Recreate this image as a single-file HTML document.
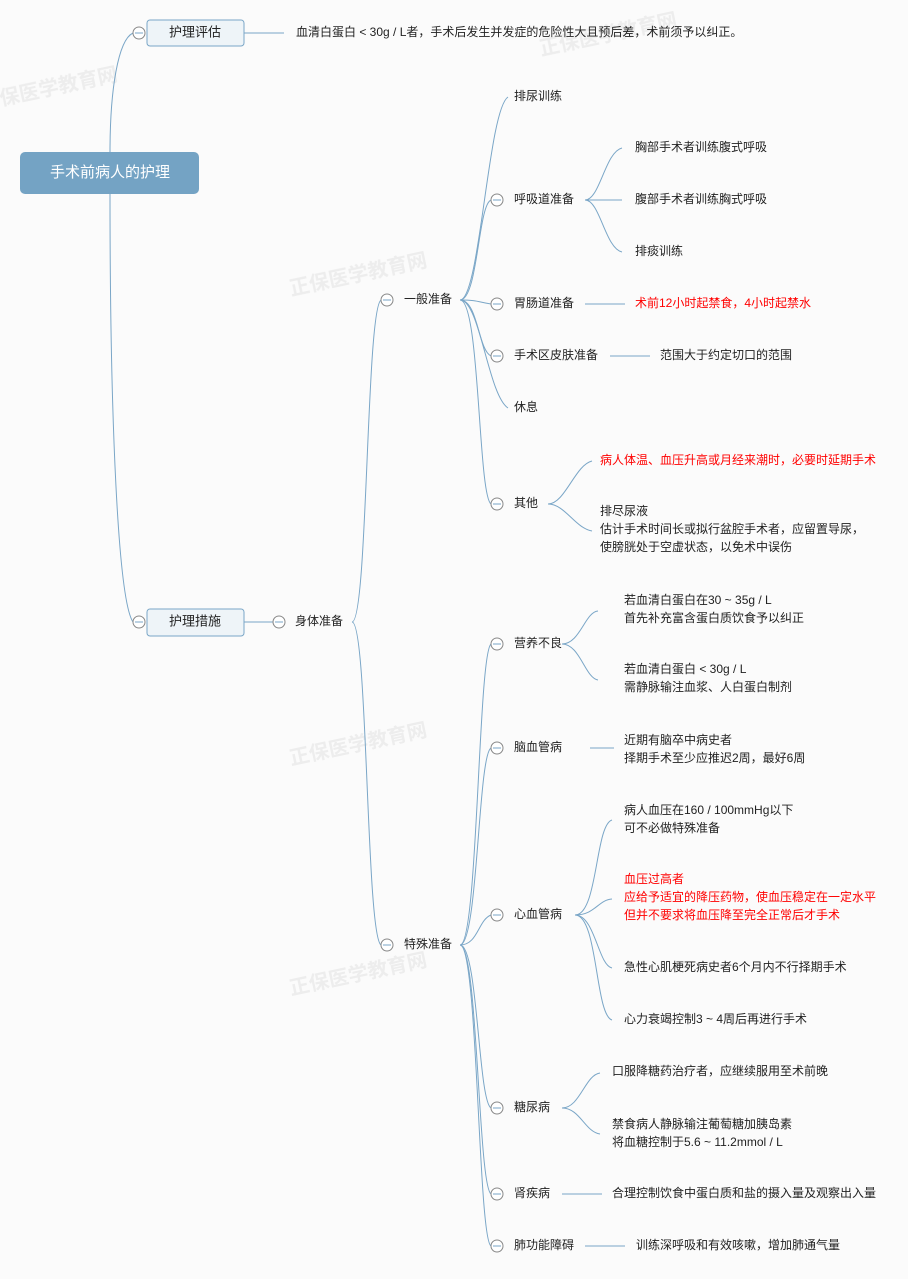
<!DOCTYPE html>
<html><head><meta charset="utf-8"><style>
html,body{margin:0;padding:0;background:#fbfbfb;}
svg{display:block;font-family:"Liberation Sans","Noto Sans CJK SC",sans-serif;}
text{font-size:12px;fill:#222;dominant-baseline:middle;}
.r{fill:#f00;}
path,line{stroke:#7aa6c7;fill:none;stroke-width:1;}
circle{fill:#fff;stroke:#888;stroke-width:1;}
</style></head><body>
<svg width="908" height="1279" viewBox="0 0 908 1279">
<g opacity="0.12" font-weight="bold" fill="#888">
<text x="540" y="50" style="font-size:20px;fill:#888" transform="rotate(-12 540 50)">正保医学教育网</text>
<text x="0" y="100" style="font-size:20px;fill:#888" transform="rotate(-12 0 100)">保医学教育网</text>
<text x="290" y="290" style="font-size:20px;fill:#888" transform="rotate(-12 290 290)">正保医学教育网</text>
<text x="290" y="760" style="font-size:20px;fill:#888" transform="rotate(-12 290 760)">正保医学教育网</text>
<text x="290" y="990" style="font-size:20px;fill:#888" transform="rotate(-12 290 990)">正保医学教育网</text>
</g>
<rect x="20" y="152" width="179" height="42" rx="5" fill="#74a3c4"/>
<text x="110" y="173" text-anchor="middle" style="font-size:15px;fill:#fff">手术前病人的护理</text>
<path d="M110 152 C110 90 118 40 133 33"/>
<path d="M110 194 C110 420 118 600 133 622"/>
<rect x="147" y="20" width="97" height="26" rx="3" fill="#eef4f8" stroke="#7aa6c7"/>
<text x="195" y="33" text-anchor="middle" style="font-size:13px">护理评估</text>
<circle cx="139" cy="33" r="6"/><line x1="135" y1="33" x2="143" y2="33" stroke="#888"/>
<line x1="244" y1="33" x2="284" y2="33"/>
<text x="296" y="33">血清白蛋白 &lt; 30g / L者，手术后发生并发症的危险性大且预后差，术前须予以纠正。</text>
<rect x="147" y="609" width="97" height="27" rx="3" fill="#eef4f8" stroke="#7aa6c7"/>
<text x="195" y="622" text-anchor="middle" style="font-size:13px">护理措施</text>
<circle cx="139" cy="622" r="6"/><line x1="135" y1="622" x2="143" y2="622" stroke="#888"/>
<line x1="244" y1="622" x2="273" y2="622"/>
<circle cx="279" cy="622" r="6"/><line x1="275" y1="622" x2="283" y2="622" stroke="#888"/>
<text x="295" y="622">身体准备</text>
<path d="M352 622 C368 622 366 310 381 300"/>
<path d="M352 622 C368 622 366 935 381 945"/>
<circle cx="387" cy="300" r="6"/><line x1="383" y1="300" x2="391" y2="300" stroke="#888"/>
<text x="404" y="300">一般准备</text>
<circle cx="387" cy="945" r="6"/><line x1="383" y1="945" x2="391" y2="945" stroke="#888"/>
<text x="404" y="945">特殊准备</text>
<path d="M460 300 C480 300 488 110 508 97"/>
<path d="M460 300 C478 300 478 205 491 200"/>
<path d="M460 300 C478 300 478 302 491 304"/>
<path d="M460 300 C478 300 478 350 491 356"/>
<path d="M460 300 C480 300 488 395 508 408"/>
<path d="M460 300 C480 300 478 495 491 504"/>
<text x="514" y="97">排尿训练</text>
<circle cx="497" cy="200" r="6"/><line x1="493" y1="200" x2="501" y2="200" stroke="#888"/><text x="514" y="200">呼吸道准备</text>
<circle cx="497" cy="304" r="6"/><line x1="493" y1="304" x2="501" y2="304" stroke="#888"/><text x="514" y="304">胃肠道准备</text>
<circle cx="497" cy="356" r="6"/><line x1="493" y1="356" x2="501" y2="356" stroke="#888"/><text x="514" y="356">手术区皮肤准备</text>
<text x="514" y="408">休息</text>
<circle cx="497" cy="504" r="6"/><line x1="493" y1="504" x2="501" y2="504" stroke="#888"/><text x="514" y="504">其他</text>
<path d="M585 200 C600 200 605 152 622 148"/>
<line x1="585" y1="200" x2="622" y2="200"/>
<path d="M585 200 C600 200 605 248 622 252"/>
<text x="635" y="148">胸部手术者训练腹式呼吸</text>
<text x="635" y="200">腹部手术者训练胸式呼吸</text>
<text x="635" y="252">排痰训练</text>
<line x1="585" y1="304" x2="625" y2="304"/>
<text x="635" y="304" class="r">术前12小时起禁食，4小时起禁水</text>
<line x1="610" y1="356" x2="650" y2="356"/>
<text x="660" y="356">范围大于约定切口的范围</text>
<path d="M548 504 C565 504 575 465 592 461"/>
<path d="M548 504 C565 504 575 528 592 531"/>
<text x="600" y="461" class="r">病人体温、血压升高或月经来潮时，必要时延期手术</text>
<text x="600" y="512">排尽尿液</text>
<text x="600" y="530">估计手术时间长或拟行盆腔手术者，应留置导尿，</text>
<text x="600" y="548">使膀胱处于空虚状态，以免术中误伤</text>
<path d="M460 945 C478 945 478 655 491 644"/>
<path d="M460 945 C478 945 478 755 491 748"/>
<path d="M460 945 C478 945 478 920 491 915"/>
<path d="M460 945 C478 945 478 1100 491 1108"/>
<path d="M460 945 C478 945 478 1185 491 1194"/>
<path d="M460 945 C478 945 478 1238 491 1246"/>
<circle cx="497" cy="644" r="6"/><line x1="493" y1="644" x2="501" y2="644" stroke="#888"/><text x="514" y="644">营养不良</text>
<circle cx="497" cy="748" r="6"/><line x1="493" y1="748" x2="501" y2="748" stroke="#888"/><text x="514" y="748">脑血管病</text>
<circle cx="497" cy="915" r="6"/><line x1="493" y1="915" x2="501" y2="915" stroke="#888"/><text x="514" y="915">心血管病</text>
<circle cx="497" cy="1108" r="6"/><line x1="493" y1="1108" x2="501" y2="1108" stroke="#888"/><text x="514" y="1108">糖尿病</text>
<circle cx="497" cy="1194" r="6"/><line x1="493" y1="1194" x2="501" y2="1194" stroke="#888"/><text x="514" y="1194">肾疾病</text>
<circle cx="497" cy="1246" r="6"/><line x1="493" y1="1246" x2="501" y2="1246" stroke="#888"/><text x="514" y="1246">肺功能障碍</text>
<path d="M562 644 C580 644 585 612 598 611"/>
<path d="M562 644 C580 644 585 678 598 680"/>
<text x="624" y="601">若血清白蛋白在30 ~ 35g / L</text>
<text x="624" y="619">首先补充富含蛋白质饮食予以纠正</text>
<text x="624" y="670">若血清白蛋白 &lt; 30g / L</text>
<text x="624" y="688">需静脉输注血浆、人白蛋白制剂</text>
<line x1="590" y1="748" x2="614" y2="748"/>
<text x="624" y="741">近期有脑卒中病史者</text>
<text x="624" y="759">择期手术至少应推迟2周，最好6周</text>
<path d="M575 915 C598 915 595 825 612 820"/>
<path d="M575 915 C595 915 598 900 612 899"/>
<path d="M575 915 C595 915 598 965 612 968"/>
<path d="M575 915 C598 915 595 1015 612 1020"/>
<text x="624" y="811">病人血压在160 / 100mmHg以下</text>
<text x="624" y="829">可不必做特殊准备</text>
<text x="624" y="880" class="r">血压过高者</text>
<text x="624" y="898" class="r">应给予适宜的降压药物，使血压稳定在一定水平</text>
<text x="624" y="916" class="r">但并不要求将血压降至完全正常后才手术</text>
<text x="624" y="968">急性心肌梗死病史者6个月内不行择期手术</text>
<text x="624" y="1020">心力衰竭控制3 ~ 4周后再进行手术</text>
<path d="M562 1108 C580 1108 585 1075 600 1073"/>
<path d="M562 1108 C580 1108 585 1132 600 1134"/>
<text x="612" y="1072">口服降糖药治疗者，应继续服用至术前晚</text>
<text x="612" y="1125">禁食病人静脉输注葡萄糖加胰岛素</text>
<text x="612" y="1143">将血糖控制于5.6 ~ 11.2mmol / L</text>
<line x1="562" y1="1194" x2="602" y2="1194"/>
<text x="612" y="1194">合理控制饮食中蛋白质和盐的摄入量及观察出入量</text>
<line x1="585" y1="1246" x2="625" y2="1246"/>
<text x="636" y="1246">训练深呼吸和有效咳嗽，增加肺通气量</text>
</svg>
</body></html>
